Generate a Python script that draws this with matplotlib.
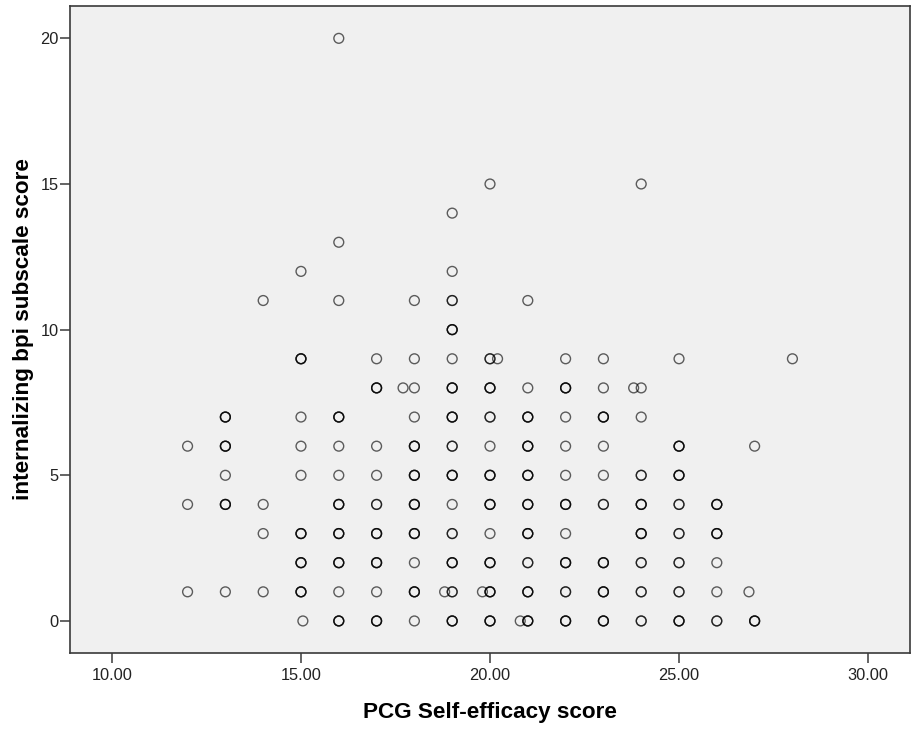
import matplotlib
matplotlib.use("Agg")
import matplotlib.pyplot as plt
import numpy as np

# Unique (x, y) positions and how many cases sit on each (overlaps draw darker)
x_vals = [16,
          20, 24,
          19,
          16,
          15, 19,
          14, 16, 18, 19, 21,
          19,
          15, 17, 18, 19, 20, 20.2, 22, 23, 25, 28,
          17, 17.7, 18, 19, 20, 21, 22, 23, 23.8, 24,
          13, 15, 16, 18, 19, 20, 21, 22, 23, 24,
          12, 13, 15, 16, 17, 18, 19, 20, 21, 22, 23, 25, 27,
          13, 15, 16, 17, 18, 19, 20, 21, 22, 23, 24, 25,
          12, 13, 14, 16, 17, 18, 19, 20, 21, 22, 23, 24, 25, 26,
          14, 15, 16, 17, 18, 19, 20, 21, 22, 24, 25, 26,
          15, 16, 17, 18, 19, 20, 21, 22, 23, 24, 25, 26,
          12, 13, 14, 15, 16, 17, 18, 18.8, 19, 19.8, 20, 21, 22, 23, 24, 25, 26, 26.85,
          15.05, 16, 17, 18, 19, 20, 20.8, 21, 22, 23, 24, 25, 26, 27]
y_vals = [20,
          15, 15,
          14,
          13,
          12, 12,
          11, 11, 11, 11, 11,
          10,
          9, 9, 9, 9, 9, 9, 9, 9, 9, 9,
          8, 8, 8, 8, 8, 8, 8, 8, 8, 8,
          7, 7, 7, 7, 7, 7, 7, 7, 7, 7,
          6, 6, 6, 6, 6, 6, 6, 6, 6, 6, 6, 6, 6,
          5, 5, 5, 5, 5, 5, 5, 5, 5, 5, 5, 5,
          4, 4, 4, 4, 4, 4, 4, 4, 4, 4, 4, 4, 4, 4,
          3, 3, 3, 3, 3, 3, 3, 3, 3, 3, 3, 3,
          2, 2, 2, 2, 2, 2, 2, 2, 2, 2, 2, 2,
          1, 1, 1, 1, 1, 1, 1, 1, 1, 1, 1, 1, 1, 1, 1, 1, 1, 1,
          0, 0, 0, 0, 0, 0, 0, 0, 0, 0, 0, 0, 0, 0]
counts = [1,
          1, 1,
          1,
          1,
          1, 1,
          1, 1, 1, 2, 1,
          3,
          3, 1, 1, 1, 2, 1, 1, 1, 1, 1,
          3, 1, 1, 3, 3, 1, 3, 1, 1, 1,
          3, 1, 3, 1, 3, 2, 3, 1, 3, 1,
          1, 3, 1, 1, 1, 3, 2, 1, 3, 1, 1, 3, 1,
          1, 1, 1, 1, 3, 3, 3, 3, 1, 1, 2, 3,
          1, 3, 1, 3, 2, 3, 1, 3, 3, 3, 2, 3, 2, 3,
          1, 3, 3, 3, 3, 2, 1, 3, 1, 3, 2, 3,
          3, 3, 3, 1, 3, 3, 2, 3, 3, 2, 2, 1,
          1, 1, 1, 3, 1, 1, 3, 1, 2, 1, 3, 3, 2, 3, 2, 2, 1, 1,
          1, 3, 3, 1, 3, 3, 1, 3, 3, 3, 2, 3, 2, 3]

x_ticks = [10, 15, 20, 25, 30]
x_tick_labels = ["10.00", "15.00", "20.00", "25.00", "30.00"]
y_ticks = [0, 5, 10, 15, 20]

xs = np.repeat(np.array(x_vals, dtype=float), counts)
ys = np.repeat(np.array(y_vals, dtype=float), counts)

plt.rcParams['font.family'] = ['Liberation Sans', 'DejaVu Sans']

fig = plt.figure(figsize=(9.14, 7.30), dpi=100)
ax = fig.add_axes([70/914, 77/730, 840/914, 647/730])
ax.set_facecolor('#f0f0f0')

ax.scatter(xs, ys, s=50, facecolors='none', edgecolors=(0, 0, 0, 0.62),
           linewidths=1.0, zorder=3)

ax.set_xlim(8.89, 31.11)
ax.set_ylim(-1.1, 21.11)
ax.set_xticks(x_ticks)
ax.set_xticklabels(x_tick_labels)
ax.set_yticks(y_ticks)

for sp in ax.spines.values():
    sp.set_color('#3a3a3a')
    sp.set_linewidth(1.2)

ax.tick_params(axis='both', direction='out', length=7, width=1.1,
               color='#3a3a3a', labelsize=11.8, labelcolor='#222222')
ax.tick_params(axis='x', pad=3.5)
ax.tick_params(axis='y', pad=1)

ax.set_xlabel("PCG Self-efficacy score", fontsize=16.2, fontweight='bold',
              labelpad=14)
ax.set_ylabel("internalizing bpi subscale score", fontsize=16.2,
              fontweight='bold', labelpad=5)

fig.savefig("out.png", dpi=100, facecolor='white')
